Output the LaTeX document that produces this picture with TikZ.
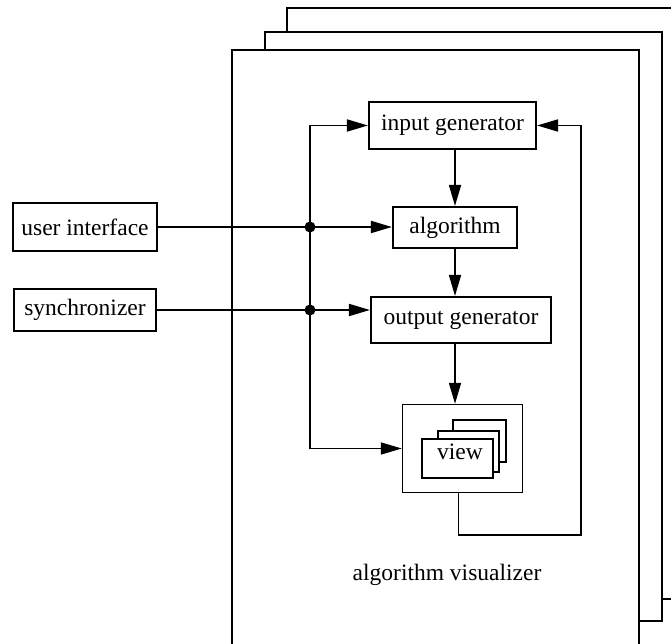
\documentclass[tikz,border=0pt]{standalone}
\usepackage{fontspec}
\setmainfont{Liberation Serif}
\usetikzlibrary{arrows.meta,calc}

\tikzset{
  txt/.style={font=\fontsize{23.5}{28}\selectfont, inner sep=0pt},
  blk/.style={txt, draw, line width=2.1pt, fill=white, minimum width=#1},
  card/.style={draw, line width=2.1pt, fill=white, inner sep=0pt},
  frame/.style={draw, line width=2.2pt, fill=white},
  conn/.style={line width=1.7pt},
  arr/.style={conn, -{Triangle[length=21pt,width=12pt]}},
  arrs/.style={conn, {Triangle[length=21pt,width=12pt]}-{Triangle[length=21pt,width=12pt]}}
}

\begin{document}
\begin{tikzpicture}[x=1pt,y=-1pt]
\useasboundingbox (0,0) rectangle (671,644);
\clip (0,0) rectangle (671,644);

% stacked visualizer frames, back to front
\path[frame] (287,8) rectangle (720,599);
\path[frame] (265,32) rectangle (662,621);
\path[frame] (232,50) rectangle (639,720);

% outside components
\node[blk=144pt, minimum height=48pt] (ui)   at (85,227) {user interface};
\node[blk=142pt, minimum height=42pt] (sync) at (85,310) {synchronizer};

% pipeline inside the visualizer
\node[blk=167pt, minimum height=47pt] (ingen)  at (452.5,125.5) {input generator};
\node[blk=124pt, minimum height=41pt] (alg)    at (455,227.5) {algorithm};
\node[blk=180pt, minimum height=46pt] (outgen) at (461,320) {output generator};
\node[card, line width=1.4pt, minimum width=120pt, minimum height=88pt] (vout) at (462.5,448.5) {};

% stacked view cards
\node[card, minimum width=53pt, minimum height=42pt] (v3) at (479.5,441) {};
\node[card, minimum width=61pt, minimum height=41pt] (v2) at (468.5,451.5) {};
\node[card, minimum width=71pt, minimum height=39pt] (v1) at (457.5,458.5) {};
\node[txt] (vlab) at (460,452) {view};

\node[txt] (title) at (447,575) {algorithm visualizer};

% control bus
\coordinate (busx) at (310,300);
\coordinate (fb) at (581,535);
\draw[arrs] (ingen.west) -| (busx) |- (vout.west);
\draw[arr] (ui.east) -- (ui.east -| alg.west);
\draw[arr] (sync.east) -- (sync.east -| outgen.west);
\coordinate (j1) at (ui.east -| busx);
\coordinate (j2) at (sync.east -| busx);
\fill (j1) circle[radius=5.5pt];
\fill (j2) circle[radius=5.5pt];

% data flow
\draw[arr] (alg.north |- ingen.south) -- (alg.north);
\draw[arr] (alg.south) -- (alg.south |- outgen.north);
\draw[arr] (alg.south |- outgen.south) -- (alg.south |- vout.north);

% feedback from the view to the input generator
\draw[arr] ($(vout.south)+(-4,0)$) |- (fb) |- (ingen.east);
\end{tikzpicture}
\end{document}
